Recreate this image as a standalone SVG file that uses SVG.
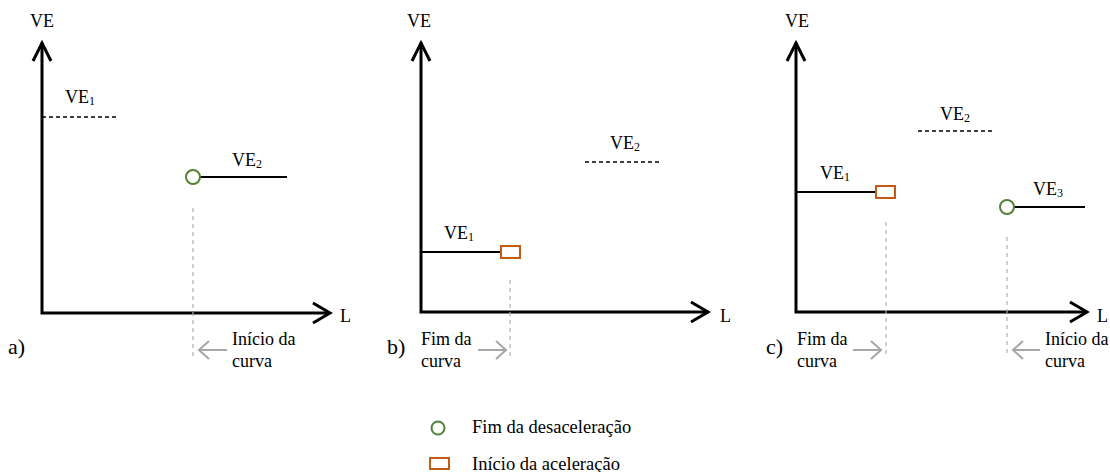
<svg xmlns="http://www.w3.org/2000/svg" width="1110" height="472" viewBox="0 0 1110 472">
<style>
text{font-family:'Liberation Serif','Times New Roman',serif;font-size:18px;fill:#000}
.sub{font-size:12px}
.lab{font-size:22px}
.leg{font-size:18.5px}
.axis{stroke:#000;stroke-width:3;fill:none;stroke-linecap:square}
.head{stroke:#000;stroke-width:3;fill:none;stroke-linejoin:miter}
.solid{stroke:#000;stroke-width:2;fill:none}
.dash{stroke:#000;stroke-width:1.5;fill:none;stroke-dasharray:4,3}
.guide{stroke:#AFAFAF;stroke-width:1.2;fill:none;stroke-dasharray:4,4}
.garrow{stroke:#A6A6A6;stroke-width:2;fill:none}
.circ{stroke:#548235;stroke-width:2;fill:#fff}
.rect{stroke:#C55A11;stroke-width:2;fill:#fff}
</style>
<g id="panel-a">
<path class="axis" d="M42,44 V313 H328"/>
<path class="head" d="M33,61 L42,43 L51,61"/>
<path class="head" d="M313,303 L330,313 L313,323"/>
<text x="30" y="27">VE</text>
<text x="340" y="322">L</text>
<text class="lab" x="8" y="354">a)</text>
<path class="dash" d="M42,117 H118"/>
<text x="65" y="103">VE<tspan class="sub" dy="2">1</tspan></text>
<path class="solid" d="M200,177 H287"/>
<circle class="circ" cx="193" cy="177" r="7"/>
<text x="232" y="166">VE<tspan class="sub" dy="2">2</tspan></text>
<path class="guide" d="M193,208 V357"/>
<path class="garrow" d="M227,350 H199 M209,341 L199,350 L209,359"/>
<text x="232" y="345">Início da</text>
<text x="232" y="367">curva</text>
</g>
<g id="panel-b">
<path class="axis" d="M421,44 V312 H706"/>
<path class="head" d="M412,61 L421,43 L430,61"/>
<path class="head" d="M691,302 L708,312 L691,322"/>
<text x="407" y="27">VE</text>
<text x="720" y="322">L</text>
<text class="lab" x="387" y="354">b)</text>
<path class="dash" d="M585,162 H662"/>
<text x="610" y="149">VE<tspan class="sub" dy="2">2</tspan></text>
<path class="solid" d="M421,252 H501"/>
<rect class="rect" x="501" y="246" width="19" height="12"/>
<text x="444" y="239">VE<tspan class="sub" dy="2">1</tspan></text>
<path class="guide" d="M510,280 V357"/>
<path class="garrow" d="M478,350 H506 M496,341 L506,350 L496,359"/>
<text x="421" y="345">Fim da</text>
<text x="421" y="367">curva</text>
</g>
<g id="panel-c">
<path class="axis" d="M796,44 V312 H1085"/>
<path class="head" d="M787,61 L796,43 L805,61"/>
<path class="head" d="M1070,302 L1087,312 L1070,322"/>
<text x="785" y="27">VE</text>
<text x="1097" y="322">L</text>
<text class="lab" x="766" y="354">c)</text>
<path class="dash" d="M918,131 H994"/>
<text x="940" y="120">VE<tspan class="sub" dy="2">2</tspan></text>
<path class="solid" d="M796,192 H876"/>
<rect class="rect" x="876" y="186" width="19" height="12"/>
<text x="820" y="179">VE<tspan class="sub" dy="2">1</tspan></text>
<path class="solid" d="M1014,207 H1085"/>
<circle class="circ" cx="1007" cy="207" r="7"/>
<text x="1033" y="195">VE<tspan class="sub" dy="2">3</tspan></text>
<path class="guide" d="M886,222 V357"/>
<path class="guide" d="M1007,237 V357"/>
<path class="garrow" d="M853,350 H881 M871,341 L881,350 L871,359"/>
<text x="797" y="345">Fim da</text>
<text x="797" y="367">curva</text>
<path class="garrow" d="M1040,350 H1013 M1023,341 L1013,350 L1023,359"/>
<text x="1045" y="345">Início da</text>
<text x="1045" y="367">curva</text>
</g>
<g id="legend">
<circle class="circ" cx="438" cy="428" r="6.5"/>
<text class="leg" x="472" y="433">Fim da desaceleração</text>
<rect class="rect" x="430" y="458" width="19" height="11"/>
<text class="leg" x="472" y="470">Início da aceleração</text>
</g>
</svg>
